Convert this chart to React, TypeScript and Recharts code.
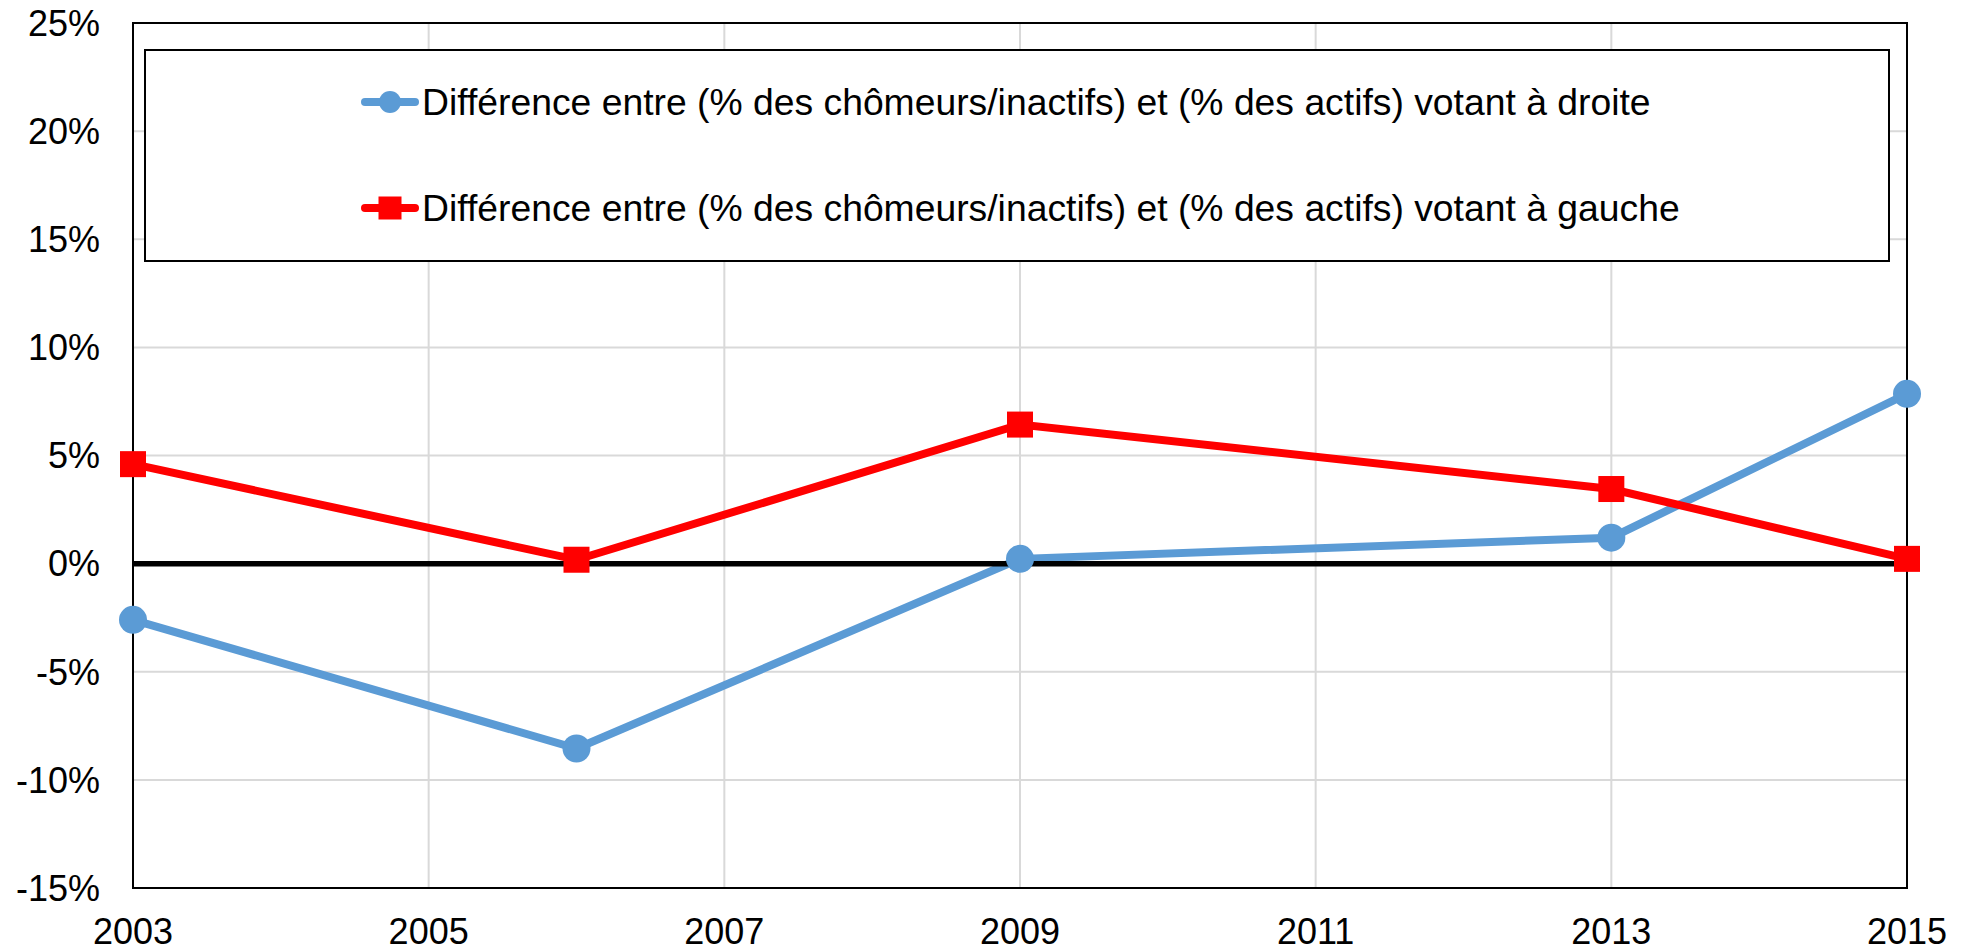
import React from 'react';
import { ComposedChart, Line, XAxis, YAxis, CartesianGrid, ReferenceLine, ReferenceArea, Legend } from 'recharts';

const years = [2003, 2006, 2009, 2013, 2015];
const droite = [-2.6, -8.55, 0.22, 1.2, 7.85];
const gauche = [4.6, 0.18, 6.43, 3.45, 0.22];
const xTicks = [2003, 2005, 2007, 2009, 2011, 2013, 2015];
const yTicks = [-15, -10, -5, 0, 5, 10, 15, 20, 25];
const labelDroite = 'Différence entre (% des chômeurs/inactifs) et (% des actifs) votant à droite';
const labelGauche = 'Différence entre (% des chômeurs/inactifs) et (% des actifs) votant à gauche';

const BLUE = '#5B9BD5';
const RED = '#FF0000';
const FONT = '"Liberation Sans", Arial, sans-serif';

const data = years.map((y, i) => ({ year: y, droite: droite[i], gauche: gauche[i] }));

const SquareDot = (props: any) => {
  const { cx, cy, index } = props;
  if (cx == null || cy == null) return null;
  return <rect key={`sq-${index}`} x={cx - 13} y={cy - 13} width={26} height={26} fill={RED} />;
};

const LegendIcon = ({ color, square }: { color: string; square: boolean }) => (
  <svg width={58} height={30} style={{ display: 'block', flex: '0 0 auto' }}>
    <line x1={4} y1={15} x2={54} y2={15} stroke={color} strokeWidth={8} strokeLinecap="round" />
    {square ? <rect x={17.5} y={3.5} width={23} height={23} fill={color} /> : <circle cx={29} cy={15} r={11} fill={color} />}
  </svg>
);

const LegendBox = () => (
  <div
    style={{
      boxSizing: 'border-box',
      width: 1746,
      height: 213,
      border: '2px solid #000',
      background: '#fff',
      fontFamily: FONT,
      fontSize: 37.3,
      color: '#000',
      position: 'relative',
    }}
  >
    {[
      { label: labelDroite, color: BLUE, square: false, cy: 51 },
      { label: labelGauche, color: RED, square: true, cy: 157 },
    ].map((r) => (
      <div
        key={r.label}
        style={{
          position: 'absolute',
          left: 215,
          top: r.cy - 22,
          height: 44,
          display: 'flex',
          alignItems: 'center',
          whiteSpace: 'nowrap',
        }}
      >
        <LegendIcon color={r.color} square={r.square} />
        <span style={{ marginLeft: 3 }}>{r.label}</span>
      </div>
    ))}
  </div>
);

export default function App() {
  return (
    <div style={{ position: 'absolute', left: 0, top: 0, width: 1970, height: 950, background: '#fff' }}>
      <ComposedChart width={1970} height={950} data={data} margin={{ top: 23, right: 63, left: 0, bottom: 0 }}>
        <CartesianGrid stroke="#d9d9d9" strokeWidth={2} vertical horizontal />
        <XAxis
          dataKey="year"
          type="number"
          domain={[2003, 2015]}
          ticks={xTicks}
          interval={0}
          height={62}
          axisLine={{ stroke: '#000', strokeWidth: 2 }}
          tickLine={false}
          tickSize={0}
          tickMargin={30}
          tick={{ fill: '#000', fontSize: 36, fontFamily: FONT }}
          allowDecimals={false}
        />
        <YAxis
          type="number"
          domain={[-15, 25]}
          ticks={yTicks}
          interval={0}
          width={133}
          axisLine={{ stroke: '#000', strokeWidth: 2 }}
          tickLine={false}
          tickSize={0}
          tickMargin={33}
          tickFormatter={(v: number) => `${v}%`}
          tick={{ fill: '#000', fontSize: 36, fontFamily: FONT }}
        />
        <ReferenceArea x1={2003} x2={2015} y1={-15} y2={25} fill="none" stroke="#000" strokeWidth={2} ifOverflow="visible" />
        <Line
          dataKey="droite"
          name={labelDroite}
          stroke={BLUE}
          strokeWidth={8}
          dot={{ r: 14, fill: BLUE, stroke: 'none' }}
          activeDot={false}
          isAnimationActive={false}
        />
        <Line
          dataKey="gauche"
          name={labelGauche}
          stroke={RED}
          strokeWidth={8}
          dot={<SquareDot />}
          activeDot={false}
          isAnimationActive={false}
        />
        <ReferenceLine y={0} stroke="#000" strokeWidth={5.5} />
        <Legend
          content={<LegendBox />}
          layout="horizontal"
          verticalAlign="middle"
          align="center"
          wrapperStyle={{ position: 'absolute', left: 144, top: 49, width: 1746, height: 213 }}
        />
      </ComposedChart>
    </div>
  );
}
